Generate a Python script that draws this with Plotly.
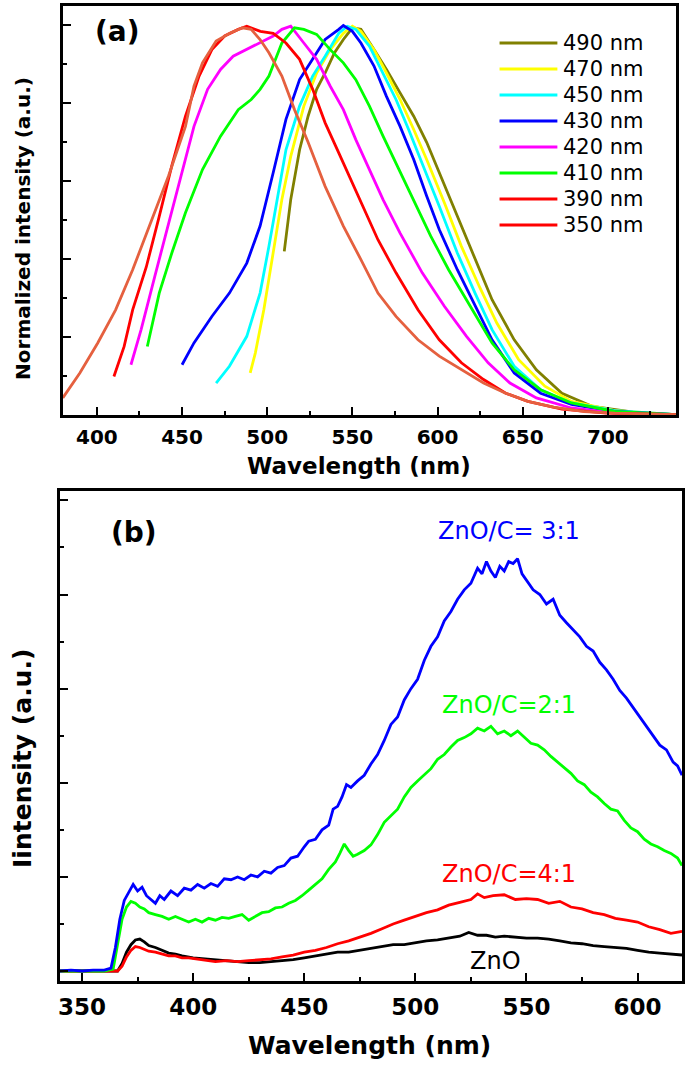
import plotly.graph_objects as go

# ---------------- Panel (a): normalized PL spectra at different excitations ----------------
a_names = ["490 nm", "470 nm", "450 nm", "430 nm", "420 nm", "410 nm", "390 nm", "350 nm"]
a_colors = ["#808000", "#FFFF00", "#00FFFF", "#0000FF", "#FF00FF", "#00FF00", "#FF0000", "#E5603F"]
a_legend_colors = ["#808000", "#FFFF00", "#00FFFF", "#0000FF", "#FF00FF", "#00FF00", "#FF0000", "#FF0000"]

x490 = [510, 513.8, 519, 524, 529, 534, 539.5, 544.7, 550, 555, 562.7, 570, 578, 586, 593.6, 601, 611.6, 622, 632, 645, 658, 673, 691, 717, 740]
y490 = [0.42, 0.553, 0.681, 0.767, 0.836, 0.878, 0.93, 0.964, 0.994, 0.99, 0.938, 0.887, 0.827, 0.767, 0.70, 0.622, 0.51, 0.399, 0.296, 0.193, 0.116, 0.056, 0.022, 0.006, 0.001]

x470 = [490, 493, 498, 503.5, 508.6, 513.8, 521.5, 529, 537, 544.7, 550, 555, 562.7, 570, 578, 586, 593.6, 604, 614, 624.5, 634.8, 647.6, 663, 678.6, 704, 740]
y470 = [0.108, 0.159, 0.27, 0.416, 0.553, 0.664, 0.793, 0.878, 0.938, 0.98, 0.998, 0.985, 0.938, 0.878, 0.81, 0.733, 0.656, 0.545, 0.433, 0.33, 0.236, 0.142, 0.074, 0.035, 0.011, 0.001]

x450 = [470, 477.8, 488, 495.8, 501, 506, 511, 519, 526.7, 534, 542, 547, 552, 560, 568, 575.6, 583, 591, 601, 611.6, 622, 632, 645, 660.5, 678.6, 704, 740]
y450 = [0.082, 0.125, 0.202, 0.313, 0.433, 0.553, 0.681, 0.793, 0.87, 0.921, 0.98, 0.998, 0.99, 0.947, 0.878, 0.81, 0.733, 0.647, 0.536, 0.416, 0.313, 0.219, 0.125, 0.065, 0.031, 0.011, 0.001]

x430 = [450, 457, 467.5, 477.8, 488, 495.8, 503.5, 511, 519, 526.7, 534, 542, 544.7, 550, 555, 562.7, 570, 578, 586, 593.6, 601, 611.6, 622, 632, 645, 660.5, 678.6, 704, 740]
y430 = [0.129, 0.185, 0.253, 0.313, 0.39, 0.485, 0.622, 0.759, 0.861, 0.913, 0.964, 0.99, 1.0, 0.985, 0.955, 0.896, 0.818, 0.741, 0.656, 0.562, 0.476, 0.373, 0.279, 0.193, 0.108, 0.056, 0.027, 0.009, 0.001]

x420 = [420, 426, 434, 441.7, 449, 457, 465, 472.6, 480, 488, 495.8, 503.5, 508.6, 513.8, 521.5, 529, 537, 544.7, 552, 560, 568, 578, 591, 604, 617, 629.7, 642.5, 658, 678.6, 704, 740]
y420 = [0.129, 0.22, 0.356, 0.485, 0.613, 0.741, 0.836, 0.887, 0.921, 0.938, 0.955, 0.973, 0.99, 0.998, 0.955, 0.913, 0.844, 0.784, 0.707, 0.63, 0.553, 0.467, 0.365, 0.279, 0.202, 0.134, 0.082, 0.044, 0.018, 0.005, 0.001]

x410 = [429.6, 436.6, 444, 452, 462, 472.6, 483, 490.6, 495.8, 501, 508.6, 516, 521.5, 529, 537, 544.7, 552, 560, 568, 575.6, 586, 596, 606.5, 619, 632, 645, 660.5, 678.6, 704, 740]
y410 = [0.176, 0.313, 0.416, 0.519, 0.63, 0.716, 0.784, 0.81, 0.836, 0.87, 0.955, 0.994, 0.99, 0.977, 0.938, 0.904, 0.861, 0.793, 0.716, 0.647, 0.553, 0.459, 0.373, 0.279, 0.185, 0.116, 0.065, 0.031, 0.009, 0.001]

x390 = [410, 416, 421, 429, 436.6, 444, 452, 460, 467.5, 475, 483, 488, 496, 503.5, 511, 519, 526.7, 534, 542, 550, 557.6, 565, 575.6, 588.5, 601, 614, 627, 640, 653, 673, 699, 740]
y390 = [0.099, 0.176, 0.27, 0.38, 0.51, 0.64, 0.767, 0.87, 0.938, 0.973, 0.99, 0.998, 0.985, 0.98, 0.955, 0.913, 0.836, 0.75, 0.673, 0.596, 0.519, 0.45, 0.365, 0.27, 0.193, 0.134, 0.091, 0.056, 0.035, 0.015, 0.005, 0.001]

x350 = [380, 390, 400.5, 411, 421, 431, 442, 452, 457, 462, 470, 478, 485.5, 490.6, 495.8, 501, 508.6, 516, 524, 534, 544.7, 555, 565, 575.6, 588.5, 601, 614, 627, 640, 653, 668, 686, 704, 740]
y350 = [0.044, 0.108, 0.185, 0.27, 0.373, 0.485, 0.613, 0.741, 0.844, 0.904, 0.96, 0.98, 0.994, 0.99, 0.964, 0.93, 0.87, 0.784, 0.70, 0.587, 0.485, 0.399, 0.313, 0.253, 0.193, 0.151, 0.116, 0.082, 0.056, 0.035, 0.02, 0.009, 0.005, 0.001]

a_x = [x490, x470, x450, x430, x420, x410, x390, x350]
a_y = [y490, y470, y450, y430, y420, y410, y390, y350]

# ---------------- Panel (b): PL intensity of ZnO and ZnO/C composites ----------------
b_names = ["ZnO", "ZnO/C=4:1", "ZnO/C=2:1", "ZnO/C= 3:1"]
b_colors = ["#000000", "#FF0000", "#00FF00", "#0000FF"]

xb_blue = [340, 345, 350, 355, 360, 363, 365, 367, 369, 371, 373, 375, 377, 379, 381, 383, 385, 387, 390, 393, 396, 399, 402, 405, 408, 411, 414, 417, 420, 423, 426, 429, 432, 435, 438, 441, 444, 447, 450, 452, 455, 458, 461, 463, 465, 467, 469, 471, 474, 477, 480, 483, 486, 489, 492, 495, 498, 501, 504, 507, 510, 513, 516, 519, 522, 525, 528, 530, 532, 534, 536, 538, 540, 542, 544, 546, 548, 550, 553, 556, 559, 562, 565, 568, 571, 574, 577, 580, 583, 586, 589, 592, 595, 598, 601, 604, 607, 610, 613, 616, 618, 620]
yb_blue = [0.0, 0.01, 0.0, 0.01, 0.01, 0.03, 0.25, 0.55, 0.75, 0.84, 0.92, 0.85, 0.89, 0.80, 0.76, 0.72, 0.80, 0.76, 0.85, 0.80, 0.88, 0.86, 0.92, 0.88, 0.93, 0.90, 0.98, 0.97, 1.00, 0.97, 1.02, 1.00, 1.06, 1.04, 1.10, 1.12, 1.20, 1.22, 1.32, 1.38, 1.40, 1.50, 1.55, 1.72, 1.75, 1.85, 1.98, 1.95, 2.02, 2.08, 2.20, 2.30, 2.45, 2.62, 2.70, 2.88, 3.00, 3.10, 3.30, 3.45, 3.55, 3.72, 3.82, 3.95, 4.05, 4.12, 4.28, 4.22, 4.35, 4.25, 4.18, 4.30, 4.25, 4.35, 4.33, 4.38, 4.22, 4.15, 4.05, 4.00, 3.90, 3.95, 3.78, 3.70, 3.62, 3.55, 3.45, 3.40, 3.28, 3.20, 3.10, 2.98, 2.90, 2.80, 2.70, 2.60, 2.50, 2.40, 2.35, 2.22, 2.18, 2.08]

xb_green = [340, 350, 360, 364, 366, 368, 370, 372, 374, 376, 378, 380, 383, 386, 389, 392, 395, 398, 401, 404, 407, 410, 413, 416, 419, 422, 425, 428, 431, 434, 437, 440, 443, 446, 449, 452, 455, 458, 461, 464, 466, 468, 470, 472, 474, 477, 480, 483, 486, 489, 492, 495, 498, 501, 504, 507, 510, 513, 516, 519, 522, 525, 528, 531, 534, 537, 540, 543, 546, 549, 552, 555, 558, 561, 564, 567, 570, 573, 576, 579, 582, 585, 588, 591, 594, 597, 600, 603, 606, 609, 612, 615, 618, 620]
yb_green = [0.0, 0.0, 0.0, 0.02, 0.30, 0.55, 0.68, 0.74, 0.72, 0.68, 0.66, 0.62, 0.60, 0.58, 0.55, 0.58, 0.55, 0.52, 0.55, 0.52, 0.56, 0.54, 0.57, 0.56, 0.58, 0.60, 0.54, 0.58, 0.62, 0.63, 0.67, 0.68, 0.72, 0.75, 0.80, 0.86, 0.92, 0.98, 1.08, 1.16, 1.25, 1.35, 1.28, 1.22, 1.24, 1.28, 1.34, 1.45, 1.58, 1.65, 1.72, 1.85, 1.95, 2.02, 2.08, 2.15, 2.25, 2.30, 2.38, 2.45, 2.48, 2.52, 2.58, 2.55, 2.60, 2.52, 2.55, 2.50, 2.55, 2.48, 2.42, 2.40, 2.35, 2.28, 2.22, 2.15, 2.10, 2.02, 1.98, 1.90, 1.85, 1.78, 1.72, 1.70, 1.60, 1.52, 1.48, 1.40, 1.35, 1.32, 1.28, 1.25, 1.20, 1.12]

xb_red = [340, 350, 360, 366, 368, 370, 372, 374, 376, 378, 380, 383, 386, 389, 392, 395, 398, 401, 405, 410, 415, 420, 425, 430, 435, 440, 445, 450, 455, 460, 465, 470, 475, 480, 485, 490, 495, 500, 505, 510, 515, 520, 525, 528, 531, 535, 540, 545, 550, 555, 560, 565, 570, 575, 580, 585, 590, 595, 600, 605, 610, 615, 620]
yb_red = [0.0, 0.0, 0.0, 0.0, 0.05, 0.15, 0.22, 0.26, 0.25, 0.23, 0.21, 0.20, 0.18, 0.16, 0.16, 0.14, 0.14, 0.13, 0.12, 0.10, 0.11, 0.10, 0.11, 0.12, 0.13, 0.15, 0.17, 0.20, 0.22, 0.25, 0.29, 0.32, 0.36, 0.40, 0.45, 0.50, 0.54, 0.58, 0.62, 0.65, 0.70, 0.73, 0.76, 0.82, 0.78, 0.80, 0.81, 0.76, 0.77, 0.76, 0.72, 0.74, 0.68, 0.66, 0.62, 0.60, 0.56, 0.54, 0.52, 0.47, 0.44, 0.40, 0.42]

xb_black = [340, 350, 360, 366, 368, 370, 372, 374, 376, 378, 380, 383, 386, 389, 392, 395, 400, 405, 410, 415, 420, 425, 430, 435, 440, 445, 450, 455, 460, 465, 470, 475, 480, 485, 490, 495, 500, 505, 510, 515, 520, 524, 528, 532, 536, 540, 545, 550, 555, 560, 565, 570, 575, 580, 585, 590, 595, 600, 605, 610, 615, 620]
yb_black = [0.0, 0.0, 0.0, 0.0, 0.08, 0.20, 0.28, 0.33, 0.34, 0.31, 0.27, 0.25, 0.22, 0.19, 0.18, 0.16, 0.14, 0.13, 0.12, 0.11, 0.10, 0.09, 0.09, 0.10, 0.11, 0.12, 0.14, 0.16, 0.18, 0.20, 0.20, 0.22, 0.24, 0.26, 0.28, 0.28, 0.30, 0.32, 0.33, 0.35, 0.37, 0.41, 0.38, 0.38, 0.36, 0.37, 0.36, 0.35, 0.35, 0.34, 0.32, 0.30, 0.29, 0.27, 0.26, 0.25, 0.24, 0.22, 0.20, 0.19, 0.18, 0.17]

b_x = [xb_black, xb_red, xb_green, xb_blue]
b_y = [yb_black, yb_red, yb_green, yb_blue]

# label positions (data coordinates of panel b)
b_label_x = [536, 542, 542, 542]
b_label_y = [0.11, 1.03, 2.83, 4.67]

a_xticks = [400, 450, 500, 550, 600, 650, 700]
b_xticks = [350, 400, 450, 500, 550, 600]

W, H = 686, 1066
FONT = "DejaVu Sans, Arial, sans-serif"


def px(x):
    return x / W


def py(y):
    return 1 - y / H


fig = go.Figure()

for name, col, xs, ys in zip(a_names, a_colors, a_x, a_y):
    fig.add_trace(go.Scatter(x=xs, y=ys, mode="lines", name=name,
                             line=dict(color=col, width=2.8), xaxis="x", yaxis="y",
                             showlegend=False))

for name, col, xs, ys in zip(b_names, b_colors, b_x, b_y):
    fig.add_trace(go.Scatter(x=xs, y=ys, mode="lines", name=name,
                             line=dict(color=col, width=2.8), xaxis="x2", yaxis="y2",
                             showlegend=False))

axis_common = dict(showline=True, linewidth=2.5, linecolor="black", mirror=True,
                   showgrid=False, zeroline=False, ticks="inside", tickwidth=2,
                   tickcolor="black")

fig.update_layout(
    width=W, height=H, margin=dict(l=0, r=0, t=0, b=0),
    paper_bgcolor="white", plot_bgcolor="white",
    xaxis=dict(domain=[px(61), px(676)], anchor="y", range=[380, 740],
               tickvals=a_xticks, ticktext=["<b>%d</b>" % v for v in a_xticks], ticklen=8,
               ticklabelstandoff=2,
               minor=dict(ticks="inside", dtick=25, tick0=400, ticklen=4, tickwidth=2, tickcolor="black"),
               tickfont=dict(family=FONT, size=20, color="black"),
               **axis_common),
    yaxis=dict(domain=[py(415), py(6)], anchor="x", range=[0, 1.05],
               dtick=0.2, tick0=0, ticklen=8, showticklabels=False,
               minor=dict(ticks="inside", dtick=0.1, ticklen=4, tickwidth=2, tickcolor="black"),
               **axis_common),
    xaxis2=dict(domain=[px(58), px(682)], anchor="y2", range=[340, 620],
                tickvals=b_xticks, ticktext=["<b>%d</b>" % v for v in b_xticks], ticklen=8,
                ticklabelstandoff=4,
                minor=dict(ticks="inside", dtick=25, tick0=350, ticklen=4, tickwidth=2, tickcolor="black"),
                tickfont=dict(family=FONT, size=23, color="black"),
                **axis_common),
    yaxis2=dict(domain=[py(981), py(491)], anchor="x2", range=[-0.106, 5.1],
                dtick=1, tick0=0, ticklen=8, showticklabels=False,
                minor=dict(ticks="inside", dtick=0.5, ticklen=4, tickwidth=2, tickcolor="black"),
                **axis_common),
)

ann = []


def paper_text(text, x, y, size, bold=True, angle=0, xanchor="center", color="black"):
    t = "<b>%s</b>" % text if bold else text
    return dict(text=t, x=px(x), y=py(y), xref="paper", yref="paper", showarrow=False,
                xanchor=xanchor, yanchor="middle", textangle=angle,
                font=dict(family=FONT, size=size, color=color))


# axis titles
ann.append(paper_text("Wavelength (nm)", 358, 466, 23))
ann.append(paper_text("Wavelength (nm)", 369, 1045, 25))
ann.append(paper_text("Normalized intensity (a.u.)", 21, 228, 20, angle=-90))
ann.append(paper_text("Iintensity (a.u.)", 20, 758, 25, angle=-90))
# panel labels
ann.append(paper_text("(a)", 116, 32, 28))
ann.append(paper_text("(b)", 132, 532, 28))
# panel (b) curve labels
for name, col, lx, ly in zip(b_names, b_colors, b_label_x, b_label_y):
    ann.append(dict(text=name, x=lx, y=ly, xref="x2", yref="y2", showarrow=False,
                    xanchor="center", yanchor="middle",
                    font=dict(family=FONT, size=24, color=col)))

# legend of panel (a), drawn manually
shapes = []
for i, (name, col) in enumerate(zip(a_names, a_legend_colors)):
    yy = 43 + 26 * i
    shapes.append(dict(type="line", xref="paper", yref="paper",
                       x0=px(499), x1=px(557), y0=py(yy), y1=py(yy),
                       line=dict(color=col, width=3)))
    ann.append(paper_text(name, 561, yy, 21, bold=False, xanchor="left"))

fig.update_layout(annotations=ann, shapes=shapes)

fig.write_html("out.html", config={"displayModeBar": False},
               post_script="document.body.style.margin='0px';")
